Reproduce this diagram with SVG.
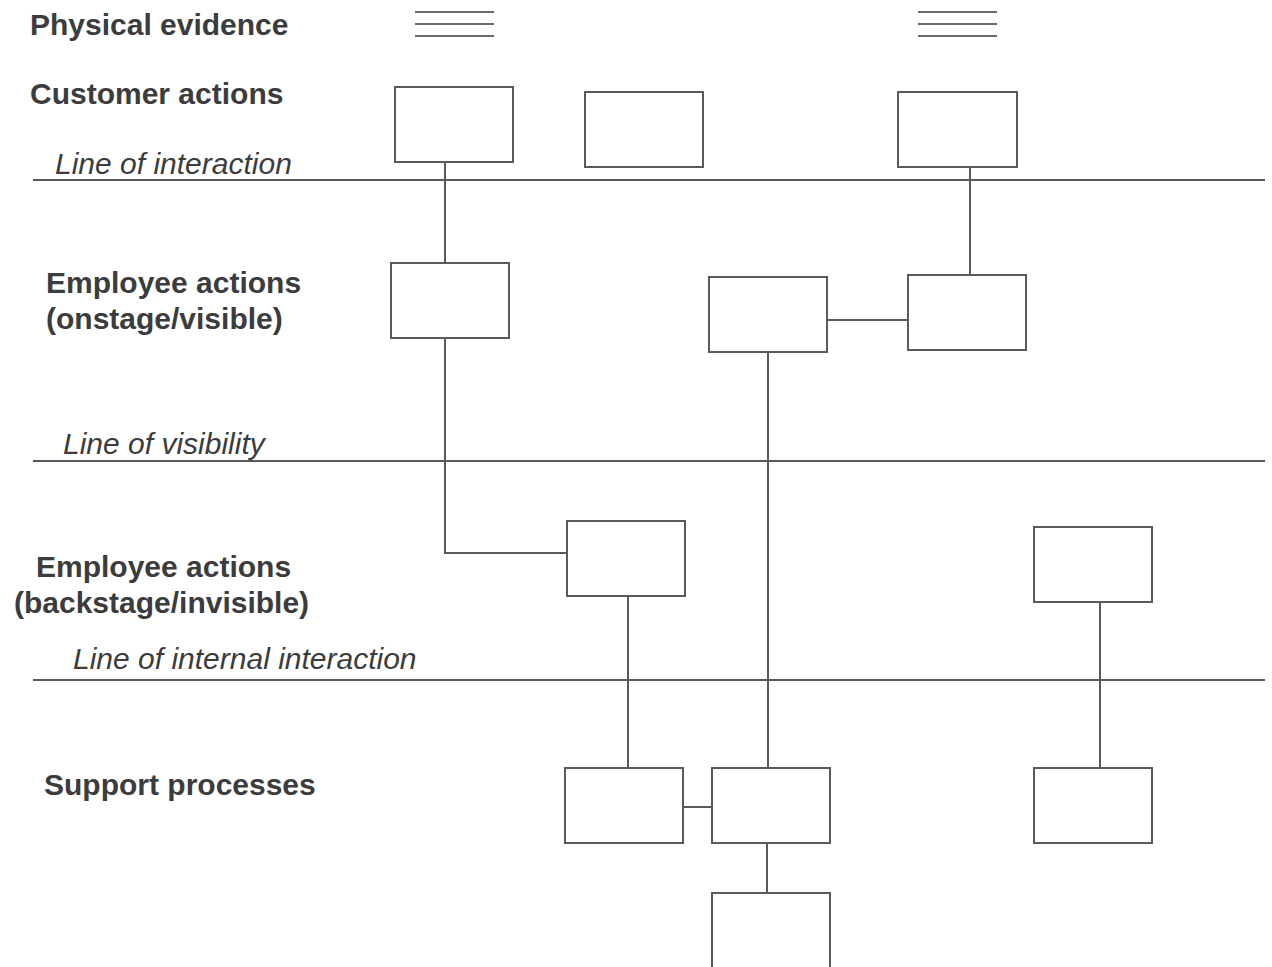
<svg xmlns="http://www.w3.org/2000/svg" width="1272" height="967" viewBox="0 0 1272 967">
<style>
.bg{fill:#ffffff}
.box{fill:#ffffff;stroke:#5a5a5a;stroke-width:2}
.lane{stroke:#5a5a5a;stroke-width:2;fill:none}
.ev{stroke:#6a6a6a;stroke-width:2.2;fill:none}
.conn{stroke:#5a5a5a;stroke-width:2;fill:none}
.h{font-family:"Liberation Sans",Arial,Helvetica,sans-serif;font-weight:bold;font-size:30px;fill:#3c3c3c}
.i{font-family:"Liberation Sans",Arial,Helvetica,sans-serif;font-style:italic;font-size:30px;fill:#3c3c3c}
</style>
<rect class="bg" x="0" y="0" width="1272" height="967"/>
<g id="lanes">
<line class="lane" x1="33" y1="180" x2="1265" y2="180"/>
<line class="lane" x1="33" y1="461" x2="1265" y2="461"/>
<line class="lane" x1="33" y1="680" x2="1265" y2="680"/>
</g>
<g id="labels">
<text class="h" x="30" y="35">Physical evidence</text>
<text class="h" x="30" y="104">Customer actions</text>
<text class="i" x="55" y="174">Line of interaction</text>
<text class="h" x="46" y="293">Employee actions</text>
<text class="h" x="46" y="329">(onstage/visible)</text>
<text class="i" x="63" y="454">Line of visibility</text>
<text class="h" x="36" y="577">Employee actions</text>
<text class="h" x="14" y="613">(backstage/invisible)</text>
<text class="i" x="73" y="669">Line of internal interaction</text>
<text class="h" x="44" y="795">Support processes</text>
</g>
<g id="evidence1">
<line class="ev" x1="415" y1="12" x2="494" y2="12"/>
<line class="ev" x1="415" y1="24" x2="494" y2="24"/>
<line class="ev" x1="415" y1="36" x2="494" y2="36"/>
</g>
<g id="evidence2">
<line class="ev" x1="918" y1="12" x2="997" y2="12"/>
<line class="ev" x1="918" y1="24" x2="997" y2="24"/>
<line class="ev" x1="918" y1="36" x2="997" y2="36"/>
</g>
<g id="connectors">
<line class="conn" x1="445" y1="162" x2="445" y2="263"/>
<line class="conn" x1="970" y1="167" x2="970" y2="275"/>
<line class="conn" x1="827" y1="320" x2="908" y2="320"/>
<polyline class="conn" points="445,338 445,553 567,553"/>
<line class="conn" x1="768" y1="352" x2="768" y2="768"/>
<line class="conn" x1="628" y1="596" x2="628" y2="768"/>
<line class="conn" x1="1100" y1="602" x2="1100" y2="768"/>
<line class="conn" x1="683" y1="807" x2="712" y2="807"/>
<line class="conn" x1="767" y1="843" x2="767" y2="893"/>
</g>
<g id="customer1"><rect class="box" x="395" y="87" width="118" height="75"/></g>
<g id="customer2"><rect class="box" x="585" y="92" width="118" height="75"/></g>
<g id="customer3"><rect class="box" x="898" y="92" width="119" height="75"/></g>
<g id="onstage1"><rect class="box" x="391" y="263" width="118" height="75"/></g>
<g id="onstage2"><rect class="box" x="709" y="277" width="118" height="75"/></g>
<g id="onstage3"><rect class="box" x="908" y="275" width="118" height="75"/></g>
<g id="backstage1"><rect class="box" x="567" y="521" width="118" height="75"/></g>
<g id="backstage2"><rect class="box" x="1034" y="527" width="118" height="75"/></g>
<g id="support1"><rect class="box" x="565" y="768" width="118" height="75"/></g>
<g id="support2"><rect class="box" x="712" y="768" width="118" height="75"/></g>
<g id="support3"><rect class="box" x="1034" y="768" width="118" height="75"/></g>
<g id="support4"><rect class="box" x="712" y="893" width="118" height="76"/></g>
</svg>
